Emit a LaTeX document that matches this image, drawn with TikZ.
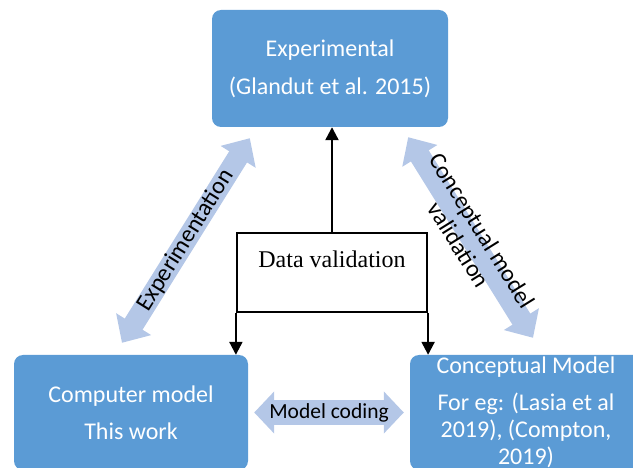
\documentclass[tikz,border=0pt]{standalone}
\usepackage{fontspec}
\setmainfont{Carlito}
\newfontfamily\timesfont{Liberation Serif}
\usetikzlibrary{positioning, arrows.meta}

\definecolor{boxblue}{HTML}{5B9BD5}
\definecolor{arrowblue}{HTML}{B4C7E7}

\begin{document}
\begin{tikzpicture}[
		x=1pt, y=-1pt,
		>={Triangle[width=13pt, length=13pt]},
		model/.style={fill=boxblue, rounded corners=9pt, text=white, align=center,
			font=\fontsize{24}{27}\selectfont, inner sep=0pt},
		wide/.style={arrowblue, line width=21pt,
			{Triangle[width=40pt, length=22pt]}-{Triangle[width=40pt, length=22pt]}},
		flow/.style={->, line width=2.2pt},
		tag/.style={text=black, font=\fontsize{24}{27}\selectfont, align=center}
		]
		\useasboundingbox (0,0) rectangle (633,468);
		
		% The three model boxes
		\node[model, minimum width=236pt, minimum height=117pt] (exp) at (330,68.5)
		{Experimental\\[11pt](Glandut et al. 2015)};
		\node[model, minimum width=234pt, minimum height=115pt] (comp) at (131,412.5)
		{Computer model\\[10pt]This work};
		\node[model, minimum width=232pt, minimum height=115pt] (concept) at (526,412.5)
		{Conceptual Model\\[10pt]For eg: (Lasia et al\\2019), (Compton,\\2019)};
		
		% Data validation box in the middle
		\node[draw, line width=2.2pt, minimum width=190pt, minimum height=79pt, inner sep=0pt,
		label={[font=\timesfont\fontsize{24}{28}\selectfont, anchor=center, yshift=-27pt]north:Data validation}]
		(dv) at (332,272.5) {};
		
		\draw[flow] (dv.north) -- (dv.north |- exp.south);
		\draw[flow] (dv.south west) -- (dv.south west |- comp.north);
		\draw[flow] (dv.south east) -- (dv.south east |- concept.north);
		
		% Wide double arrows between the boxes
		\draw[wide] ([xshift=-9pt, yshift=12pt]comp.north) -- ([xshift=38pt, yshift=-11pt]exp.south west)
		node[tag, midway, sloped] {Experimentation};
		\draw[wide] ([xshift=-40pt, yshift=-10pt]exp.south east) -- ([xshift=7pt, yshift=17pt]concept.north)
		node[tag, midway, sloped] {Conceptual model\\validation};
		\draw[wide, line width=25pt, {Triangle[width=41pt, length=20pt]}-{Triangle[width=41pt, length=20pt]}]
		([xshift=6pt]comp.east) -- ([xshift=-6pt]concept.west)
		node[tag, midway, font=\fontsize{21.5}{25}\selectfont] {Model coding};
		
	\end{tikzpicture}
\end{document}
